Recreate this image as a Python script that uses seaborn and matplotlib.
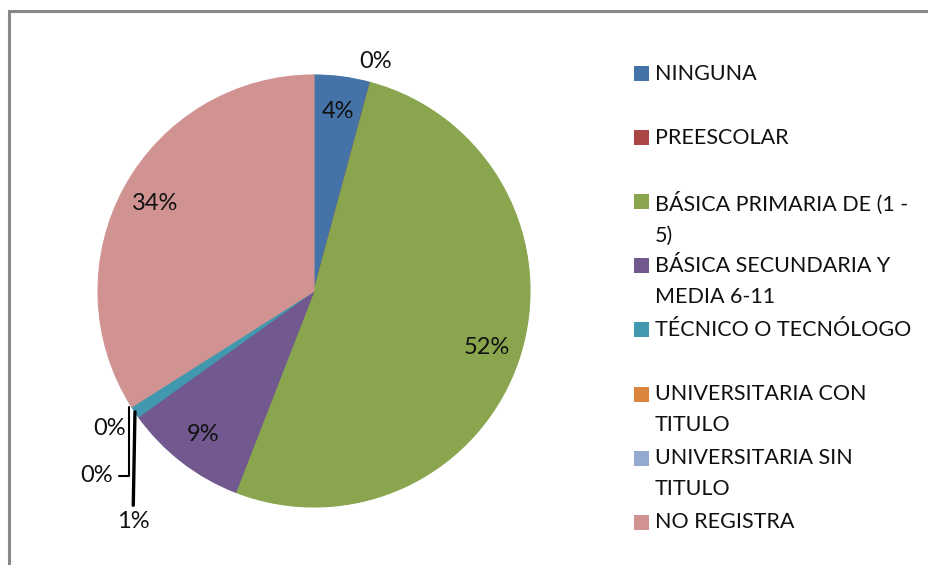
import numpy as np
import matplotlib
matplotlib.use("Agg")
import matplotlib.pyplot as plt
from matplotlib.patches import Rectangle
import seaborn as sns

categorias = ["NINGUNA", "PREESCOLAR", "BÁSICA PRIMARIA DE (1 -\n5)",
              "BÁSICA SECUNDARIA Y\nMEDIA 6-11", "TÉCNICO O TECNÓLOGO",
              "UNIVERSITARIA CON\nTITULO", "UNIVERSITARIA SIN\nTITULO", "NO REGISTRA"]
porcentajes = [4.2, 0.0, 51.7, 9.2, 0.9, 0.0, 0.0, 34.0]
etiquetas = ["4%", "0%", "52%", "9%", "1%", "0%", "0%", "34%"]
colores = ["#4572A7", "#AA4643", "#89A54E", "#71588F",
           "#4198AF", "#DB843D", "#93A9CF", "#D19392"]

sns.set_style("white")
plt.rcParams["font.family"] = ["Lato", "DejaVu Sans"]

W, H = 929, 565
fig = plt.figure(figsize=(W / 100, H / 100), dpi=100)
fig.patch.set_facecolor("white")

# chart frame (only top/left visible in the reference)
fig.patches.append(Rectangle((9.5 / W, -0.1), 1.2, (H - 11.5) / H + 0.1,
                             transform=fig.transFigure, fill=False,
                             edgecolor="#888888", lw=2.2))

cx, cy, r = 314, 291, 216
ax = fig.add_axes([(cx - r) / W, (H - cy - r) / H, 2 * r / W, 2 * r / H])
wedges, _ = ax.pie(porcentajes, colors=colores, startangle=90, counterclock=False,
                   wedgeprops=dict(linewidth=0.8, edgecolor="none"))
for w, c in zip(wedges, colores):
    w.set_edgecolor(c)
ax.set_xlim(-1, 1)
ax.set_ylim(-1, 1)
ax.set_aspect("equal")
ax.axis("off")

fs = 15.5
fp = 17
tc = "#111111"
for i, (w, lab) in enumerate(zip(wedges, etiquetas)):
    ang = np.deg2rad((w.theta1 + w.theta2) / 2)
    ex, ey = np.cos(ang), np.sin(ang)
    if i in (0, 2, 3, 7):
        ax.text(0.84 * ex, 0.84 * ey, lab, ha="center", va="center", fontsize=fp, color=tc)
    elif i == 1:
        ax.text(1.1 * ex, 1.1 * ey, lab, ha="center", va="center", fontsize=fp, color=tc)
    elif i == 4:
        ax.annotate(lab, xy=(ex, ey), xytext=(-2, -110), textcoords="offset pixels",
                    ha="center", va="center", fontsize=fp, color=tc,
                    arrowprops=dict(arrowstyle="-", color="black", lw=2.4,
                                    shrinkA=2, shrinkB=0))
    elif i == 5:
        ax.annotate(lab, xy=(ex - 0.012, ey), xytext=(-32, -69), textcoords="offset pixels",
                    ha="center", va="center", fontsize=fp, color=tc,
                    arrowprops=dict(arrowstyle="-", color="black", lw=1.5,
                                    shrinkA=2, shrinkB=0,
                                    connectionstyle="angle,angleA=0,angleB=90,rad=0"))
    else:
        ax.annotate(lab, xy=(ex, ey), xytext=(-22, -22), textcoords="offset pixels",
                    ha="center", va="center", fontsize=fp, color=tc)

# legend drawn by hand so that each marker sits on the first text line
lx, ly0, paso = 634, 73.5, 64.1
for k, (cat, c) in enumerate(zip(categorias, colores)):
    y = ly0 + k * paso
    fig.patches.append(Rectangle((lx / W, (H - y - 7.5) / H), 15 / W, 15 / H,
                                 transform=fig.transFigure, facecolor=c,
                                 edgecolor="none"))
    fig.text((lx + 21) / W, (H - y + 10) / H, cat, ha="left", va="top",
             fontsize=fs, linespacing=1.68, color=tc)

fig.savefig("out.png", dpi=100)
